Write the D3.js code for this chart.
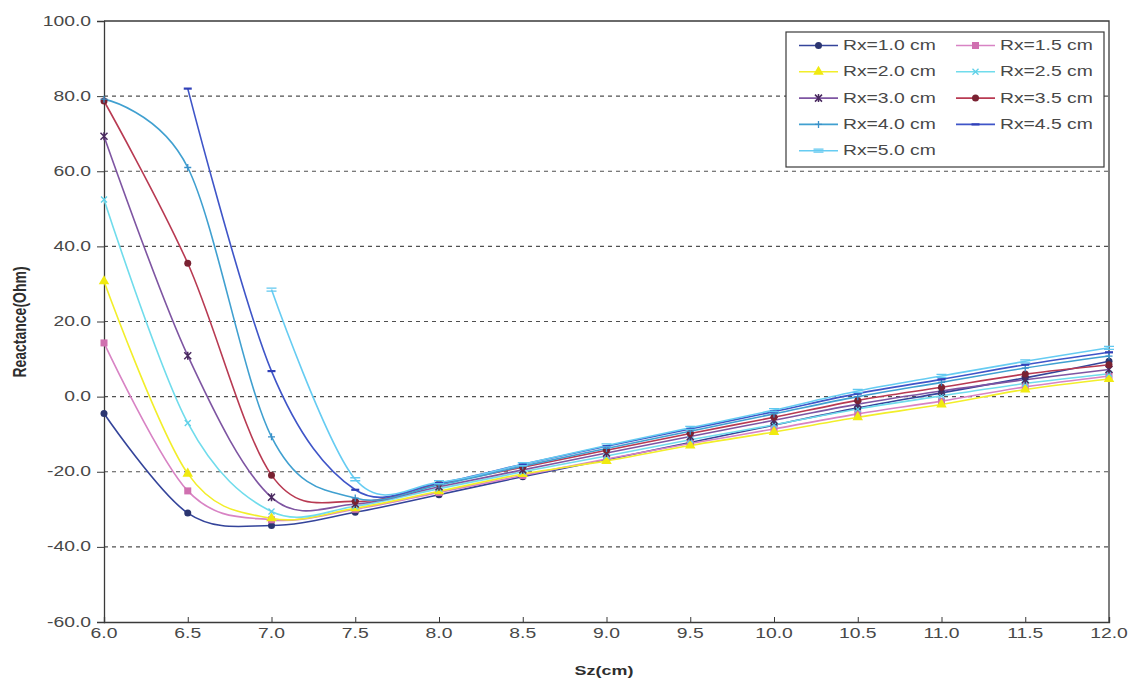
<!DOCTYPE html>
<html>
<head>
<meta charset="utf-8">
<script src="https://cdn.jsdelivr.net/npm/d3@7"></script>
<style>
  html, body { margin: 0; padding: 0; background: #fff; }
  svg { display: block; }
  text { font-family: "Liberation Sans", Arial, sans-serif; }
</style>
</head>
<body>
<svg id="chart" width="1129" height="678"></svg>
<script>
// ---------- data ----------
const sz = [6.0, 6.5, 7.0, 7.5, 8.0, 8.5, 9.0, 9.5, 10.0, 10.5, 11.0, 11.5, 12.0];
const xTickLabels = ["6.0","6.5","7.0","7.5","8.0","8.5","9.0","9.5","10.0","10.5","11.0","11.5","12.0"];
const yTickValues = [100, 80, 60, 40, 20, 0, -20, -40, -60];
const yTickLabels = ["100.0","80.0","60.0","40.0","20.0","0.0","-20.0","-40.0","-60.0"];
const seriesNames = ["Rx=1.0 cm","Rx=1.5 cm","Rx=2.0 cm","Rx=2.5 cm","Rx=3.0 cm","Rx=3.5 cm","Rx=4.0 cm","Rx=4.5 cm","Rx=5.0 cm"];
const rx10 = [-4.5, -31.0, -34.3, -30.8, -26.1, -21.3, -16.8, -12.2, -7.6, -3.0, 1.0, 5.0, 9.4];
const rx15 = [14.3, -25.1, -32.8, -30.0, -25.5, -21.0, -16.6, -12.5, -8.6, -4.6, -1.2, 2.6, 5.5];
const rx20 = [30.7, -20.5, -32.4, -29.7, -25.2, -20.6, -17.1, -13.0, -9.4, -5.5, -2.1, 1.9, 4.7];
const rx25 = [52.5, -7.0, -30.6, -29.2, -24.5, -20.0, -15.8, -11.5, -7.5, -3.3, 0.2, 3.5, 6.1];
const rx30 = [69.3, 10.9, -26.8, -28.6, -24.0, -19.5, -15.0, -10.6, -6.3, -2.0, 1.5, 4.5, 7.2];
const rx35 = [78.7, 35.5, -20.9, -27.9, -23.2, -18.8, -14.3, -9.8, -5.5, -1.0, 2.5, 6.0, 8.5];
const rx40 = [79.2, 61.0, -10.7, -27.0, -23.5, -18.5, -13.8, -9.2, -4.6, 0.0, 3.8, 7.6, 10.8];
const rx45 = [null, 82.0, 6.8, -24.8, -23.0, -18.0, -13.2, -8.6, -4.0, 0.8, 4.6, 8.5, 11.8];
const rx50 = [null, null, 28.5, -22.0, -22.8, -18.0, -13.0, -8.3, -3.6, 1.5, 5.5, 9.4, 13.0];

const seriesValues = [rx10, rx15, rx20, rx25, rx30, rx35, rx40, rx45, rx50];
const seriesColors = ["#34449a", "#d883c4", "#f2ee2a", "#70dcec", "#7e55a2", "#b83a52", "#40a0d0", "#3f55c8", "#66ccf2"];
const markerColors = ["#2b3570", "#d070b0", "#f0ea10", "#5fd0e8", "#4a2a60", "#7a2232", "#3a90c8", "#3040b8", "#60c8f0"];
const markerShapes = ["circle", "square", "triangle", "x", "star", "circle", "plus", "dash", "bar"];

// ---------- layout ----------
const svg = d3.select("#chart");
const pLeft = 104, pRight = 1109, pTop = 21, pBottom = 622;
const SX = 1.38; // horizontal stretch of the text in the reference

const x = d3.scaleLinear().domain([6, 12]).range([pLeft, pRight]);
const y = d3.scaleLinear().domain([-60, 100]).range([pBottom, pTop]);

function stretchedText(g, px, py, str, opts = {}) {
  return g.append("text")
    .attr("transform", `translate(${px},${py}) scale(${SX},1)`)
    .attr("text-anchor", opts.anchor || "start")
    .attr("dominant-baseline", "central")
    .attr("font-size", opts.size || 14)
    .attr("font-weight", opts.weight || "normal")
    .attr("fill", opts.fill || "#484848")
    .text(str);
}

// gridlines
const grid = svg.append("g");
grid.selectAll("line")
  .data(yTickValues.filter(v => v > -60 && v < 100))
  .join("line")
  .attr("x1", pLeft).attr("x2", pRight)
  .attr("y1", d => y(d)).attr("y2", d => y(d))
  .attr("stroke", "#505050")
  .attr("stroke-width", 1.2)
  .attr("stroke-dasharray", "4,4");

// frame (top & right)
svg.append("path")
  .attr("d", `M${pLeft},${pTop}H${pRight}V${pBottom}`)
  .attr("fill", "none").attr("stroke", "#3a3a3a").attr("stroke-width", 1.3);

// y axis
const yAxis = d3.axisLeft(y).tickValues(yTickValues).tickSize(7).tickFormat("");
const gy = svg.append("g").attr("transform", `translate(${pLeft},0)`).call(yAxis);
gy.select(".domain").attr("stroke", "#3a3a3a").attr("stroke-width", 1.3);
gy.selectAll(".tick line").attr("stroke", "#3a3a3a");
yTickValues.forEach((v, i) => stretchedText(svg, pLeft - 13, y(v), yTickLabels[i], { anchor: "end" }));

// x axis
const xAxis = d3.axisBottom(x).tickValues(sz).tickSize(-5).tickFormat("");
const gx = svg.append("g").attr("transform", `translate(0,${pBottom})`).call(xAxis);
gx.select(".domain").attr("stroke", "#3a3a3a").attr("stroke-width", 1.3);
gx.selectAll(".tick line").attr("stroke", "#3a3a3a");
sz.forEach((v, i) => stretchedText(svg, x(v), pBottom + 11, xTickLabels[i], { anchor: "middle" }));

// axis titles
stretchedText(svg, 604, 670, "Sz(cm)", { anchor: "middle", weight: "bold", size: 13, fill: "#2e2e2e" });
svg.append("text")
  .attr("transform", `translate(20,322) scale(1.25,1) rotate(-90)`)
  .attr("text-anchor", "middle")
  .attr("dominant-baseline", "central")
  .attr("font-size", 14)
  .attr("font-weight", "bold")
  .attr("fill", "#2e2e2e")
  .text("Reactance(Ohm)");

// markers
function drawMarker(g, shape, cx, cy, color) {
  const s = 3.5;
  switch (shape) {
    case "circle":
      g.append("circle").attr("cx", cx).attr("cy", cy).attr("r", s).attr("fill", color); break;
    case "square":
      g.append("rect").attr("x", cx - s).attr("y", cy - s).attr("width", 2 * s).attr("height", 2 * s).attr("fill", color); break;
    case "triangle":
      g.append("path").attr("d", d3.symbol(d3.symbolTriangle, 48)()).attr("transform", `translate(${cx},${cy})`).attr("fill", color); break;
    case "x":
      g.append("path").attr("d", `M${cx-3},${cy-3}L${cx+3},${cy+3}M${cx-3},${cy+3}L${cx+3},${cy-3}`).attr("stroke", color).attr("stroke-width", 1.3); break;
    case "star":
      g.append("path").attr("d", `M${cx-3.5},${cy-3.5}L${cx+3.5},${cy+3.5}M${cx-3.5},${cy+3.5}L${cx+3.5},${cy-3.5}M${cx},${cy-4}V${cy+4}`).attr("stroke", color).attr("stroke-width", 1.5); break;
    case "plus":
      g.append("path").attr("d", `M${cx-3.5},${cy}H${cx+3.5}M${cx},${cy-3.5}V${cy+3.5}`).attr("stroke", color).attr("stroke-width", 1.3); break;
    case "dash":
      g.append("path").attr("d", `M${cx-4},${cy}H${cx+4}`).attr("stroke", color).attr("stroke-width", 2.2); break;
    case "bar":
      g.append("path").attr("d", `M${cx-5},${cy-1.5}H${cx+5}M${cx-5},${cy+1.5}H${cx+5}`).attr("stroke", color).attr("stroke-width", 1.3); break;
  }
}

// lines
const line = d3.line()
  .x(d => x(d[0]))
  .y(d => y(d[1]))
  .curve(d3.curveCatmullRom.alpha(0));

const plot = svg.append("g");
seriesValues.forEach((vals, i) => {
  const pts = sz.map((s, j) => [s, vals[j]]).filter(p => p[1] !== null);
  plot.append("path")
    .attr("d", line(pts))
    .attr("fill", "none")
    .attr("stroke", seriesColors[i])
    .attr("stroke-width", 1.6);
});
seriesValues.forEach((vals, i) => {
  const g = plot.append("g");
  sz.forEach((s, j) => {
    if (vals[j] !== null) drawMarker(g, markerShapes[i], x(s), y(vals[j]), markerColors[i]);
  });
});

// legend
const lg = svg.append("g");
lg.append("rect").attr("x", 786).attr("y", 32).attr("width", 318).attr("height", 135)
  .attr("fill", "#fff").attr("stroke", "#3a3a3a").attr("stroke-width", 1.2);
seriesNames.forEach((name, i) => {
  const col = i % 2, row = Math.floor(i / 2);
  const x0 = col === 0 ? 799 : 956;
  const yy = 45.5 + row * 26.3;
  lg.append("line").attr("x1", x0).attr("x2", x0 + 39).attr("y1", yy).attr("y2", yy)
    .attr("stroke", seriesColors[i]).attr("stroke-width", 1.6);
  drawMarker(lg, markerShapes[i], x0 + 19.5, yy, markerColors[i]);
  stretchedText(lg, x0 + 44, yy, name, { size: 14 });
});
</script>
</body>
</html>
